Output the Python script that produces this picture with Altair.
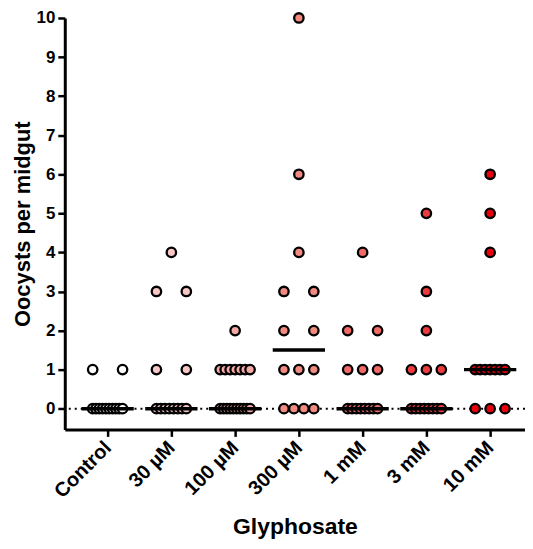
import altair as alt
import numpy as np
import pandas as pd

groups = ["Control", "30 µM", "100 µM", "300 µM", "1 mM", "3 mM", "10 mM"]
colors = ["#FFFFFF", "#F9C6C6", "#F5A9A4", "#F28A80", "#F26A66", "#EE3A3E", "#E8000D"]

control = [0, 0, 0, 0, 0, 0, 0, 0, 0, 0, 1, 1]
g30uM = [0, 0, 0, 0, 0, 0, 0, 0, 1, 1, 3, 3, 4]
g100uM = [0, 0, 0, 0, 0, 0, 0, 0, 0, 0, 1, 1, 1, 1, 1, 1, 1, 2]
g300uM = [0, 0, 0, 0, 1, 1, 1, 2, 2, 3, 3, 4, 6, 10]
g1mM = [0, 0, 0, 0, 0, 0, 0, 0, 1, 1, 1, 2, 2, 4]
g3mM = [0, 0, 0, 0, 0, 0, 0, 0, 1, 1, 1, 2, 3, 5]
g10mM = [0, 0, 0, 1, 1, 1, 1, 1, 1, 1, 4, 5, 6]
series = [control, g30uM, g100uM, g300uM, g1mM, g3mM, g10mM]

PX_PER_UNIT = 64.0
ROW_SPAN_PX = 30.0
MED_HALF = 0.41

rows = []
meds = []
for gi, (g, vals) in enumerate(zip(groups, series)):
    arr = np.array(vals)
    for v in sorted(set(vals)):
        n = int((arr == v).sum())
        offs = np.linspace(-ROW_SPAN_PX / 2, ROW_SPAN_PX / 2, n) if n > 1 else [0.0]
        for o in offs:
            rows.append({"group": g, "gi": gi, "x": gi + o / PX_PER_UNIT, "value": v})
    meds.append({"group": g, "x1": gi - MED_HALF, "x2": gi + MED_HALF, "med": float(np.median(arr))})

pts = pd.DataFrame(rows)
med_df = pd.DataFrame(meds)
zero_df = pd.DataFrame({"v": [0]})

label_expr = "[" + ",".join("'" + g + "'" for g in groups) + "][datum.value]"

xscale = alt.Scale(domain=[-0.672, 6.547], nice=False, zero=False)
yscale = alt.Scale(domain=[-0.53, 10], nice=False, zero=False)

xaxis = alt.Axis(values=list(range(len(groups))), labelExpr=label_expr, labelAngle=315,
                 labelAlign="right", labelBaseline="middle", title="Glyphosate",
                 tickSize=7, labelPadding=8, titlePadding=14, labelFlush=False, labelOverlap=False,
                 labelFontSize=20, titleFontSize=23)
yaxis = alt.Axis(values=list(range(11)), title="Oocysts per midgut", tickSize=7,
                 labelPadding=3, titlePadding=2, labelFontSize=17, titleFontSize=22)

zero_line = alt.Chart(zero_df).mark_rule(color="black", strokeWidth=2, strokeDash=[2, 4]).encode(
    y=alt.Y("v:Q", scale=yscale, axis=yaxis)
)

points = alt.Chart(pts).mark_circle(size=90, stroke="black", strokeWidth=2.3, opacity=1).encode(
    x=alt.X("x:Q", scale=xscale, axis=xaxis),
    y=alt.Y("value:Q", scale=yscale, axis=yaxis),
    color=alt.Color("group:N", scale=alt.Scale(domain=groups, range=colors), legend=None),
)

medians = alt.Chart(med_df).mark_rule(color="black", strokeWidth=3.5).encode(
    x=alt.X("x1:Q", scale=xscale, axis=xaxis),
    x2="x2:Q",
    y=alt.Y("med:Q", scale=yscale, axis=yaxis),
)

chart = alt.layer(zero_line, points, medians).properties(
    width=462, height=413,
    autosize=alt.AutoSizeParams(type="none"),
    padding={"left": 57, "top": 9, "right": 0, "bottom": 111},
).configure_view(stroke=None).configure_axis(
    grid=False,
    domainColor="black", domainWidth=3,
    tickColor="black", tickWidth=2.5,
    labelColor="black", labelFont="Liberation Sans", labelFontWeight="bold",
    titleColor="black", titleFont="Liberation Sans", titleFontWeight="bold",
)

chart.save("out.html", embed_options={"renderer": "svg", "actions": False})
